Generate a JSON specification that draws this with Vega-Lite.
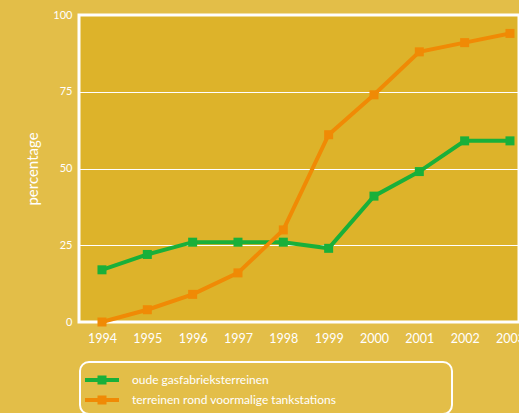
{
  "$schema": "https://vega.github.io/schema/vega-lite/v6.json",
  "autosize": "none",
  "width": 440,
  "height": 307,
  "padding": {"left": 79, "top": 15, "right": 0, "bottom": 91},
  "background": "#E3BE48",
  "view": {"fill": "#DDB32A", "stroke": "#FFFFFF", "strokeWidth": 3},
  "config": {
    "font": "Lato",
    "axis": {"labelColor": "#FFFFFF", "titleColor": "#FFFFFF", "labelFont": "Lato", "titleFont": "Lato"},
    "legend": {"labelFont": "Lato"}
  },
  "data": {
    "values": [
      {"year": 1994, "serie": "oude gasfabrieksterreinen", "pct": 17},
      {"year": 1995, "serie": "oude gasfabrieksterreinen", "pct": 22},
      {"year": 1996, "serie": "oude gasfabrieksterreinen", "pct": 26},
      {"year": 1997, "serie": "oude gasfabrieksterreinen", "pct": 26},
      {"year": 1998, "serie": "oude gasfabrieksterreinen", "pct": 26},
      {"year": 1999, "serie": "oude gasfabrieksterreinen", "pct": 24},
      {"year": 2000, "serie": "oude gasfabrieksterreinen", "pct": 41},
      {"year": 2001, "serie": "oude gasfabrieksterreinen", "pct": 49},
      {"year": 2002, "serie": "oude gasfabrieksterreinen", "pct": 59},
      {"year": 2003, "serie": "oude gasfabrieksterreinen", "pct": 59},
      {"year": 1994, "serie": "terreinen rond voormalige tankstations", "pct": 0},
      {"year": 1995, "serie": "terreinen rond voormalige tankstations", "pct": 4},
      {"year": 1996, "serie": "terreinen rond voormalige tankstations", "pct": 9},
      {"year": 1997, "serie": "terreinen rond voormalige tankstations", "pct": 16},
      {"year": 1998, "serie": "terreinen rond voormalige tankstations", "pct": 30},
      {"year": 1999, "serie": "terreinen rond voormalige tankstations", "pct": 61},
      {"year": 2000, "serie": "terreinen rond voormalige tankstations", "pct": 74},
      {"year": 2001, "serie": "terreinen rond voormalige tankstations", "pct": 88},
      {"year": 2002, "serie": "terreinen rond voormalige tankstations", "pct": 91},
      {"year": 2003, "serie": "terreinen rond voormalige tankstations", "pct": 94}
    ]
  },
  "encoding": {
    "x": {
      "field": "year", "type": "quantitative",
      "scale": {"domain": [1993.493, 2003.199], "nice": false, "zero": false},
      "axis": {
        "values": [1994, 1995, 1996, 1997, 1998, 1999, 2000, 2001, 2002, 2003],
        "format": "d", "title": null, "grid": false, "domain": false, "ticks": false,
        "labelPadding": 10, "labelFontSize": 12.5, "labelOverlap": false, "labelFlush": false
      }
    },
    "y": {
      "field": "pct", "type": "quantitative",
      "scale": {"domain": [0, 100], "nice": false},
      "axis": {
        "values": [0, 25, 50, 75, 100], "title": "percentage",
        "titleFontSize": 15, "titleFontWeight": "normal", "titlePadding": 12,
        "grid": true, "gridColor": "#FFFFFF", "gridWidth": 1.2, "gridOpacity": 1,
        "domain": false, "ticks": false, "labelPadding": 7, "labelFontSize": 11
      }
    },
    "color": {
      "field": "serie", "type": "nominal",
      "scale": {"domain": ["oude gasfabrieksterreinen", "terreinen rond voormalige tankstations"], "range": ["#19B03A", "#F08A05"]},
      "legend": {
        "orient": "none", "legendX": 1, "legendY": 347,
        "title": "xxxxxxxxxxxxxxxxx", "titleOrient": "right", "titleColor": "transparent",
        "titleFontSize": 11, "titlePadding": 10,
        "strokeColor": "#FFFFFF", "cornerRadius": 9, "padding": 8,
        "symbolType": "M-1.7,-0.2 L1.7,-0.2 L1.7,0.2 L-1.7,0.2 Z M-0.45,-0.45 L0.45,-0.45 L0.45,0.45 L-0.45,0.45 Z",
        "symbolSize": 400, "symbolOffset": 4,
        "labelOffset": 20, "labelColor": "#FFFFFF", "labelFontSize": 12, "labelLimit": 400,
        "rowPadding": 4,
        "encode": {
          "legend": {"update": {"strokeWidth": {"value": 2}}},
          "symbols": {"update": {"fill": {"scale": "color", "field": "value"}, "strokeWidth": {"value": 0}, "opacity": {"value": 1}}}
        }
      }
    }
  },
  "layer": [
    {"mark": {"type": "line", "strokeWidth": 4}},
    {"mark": {"type": "square", "size": 81, "filled": true, "opacity": 1}}
  ]
}
